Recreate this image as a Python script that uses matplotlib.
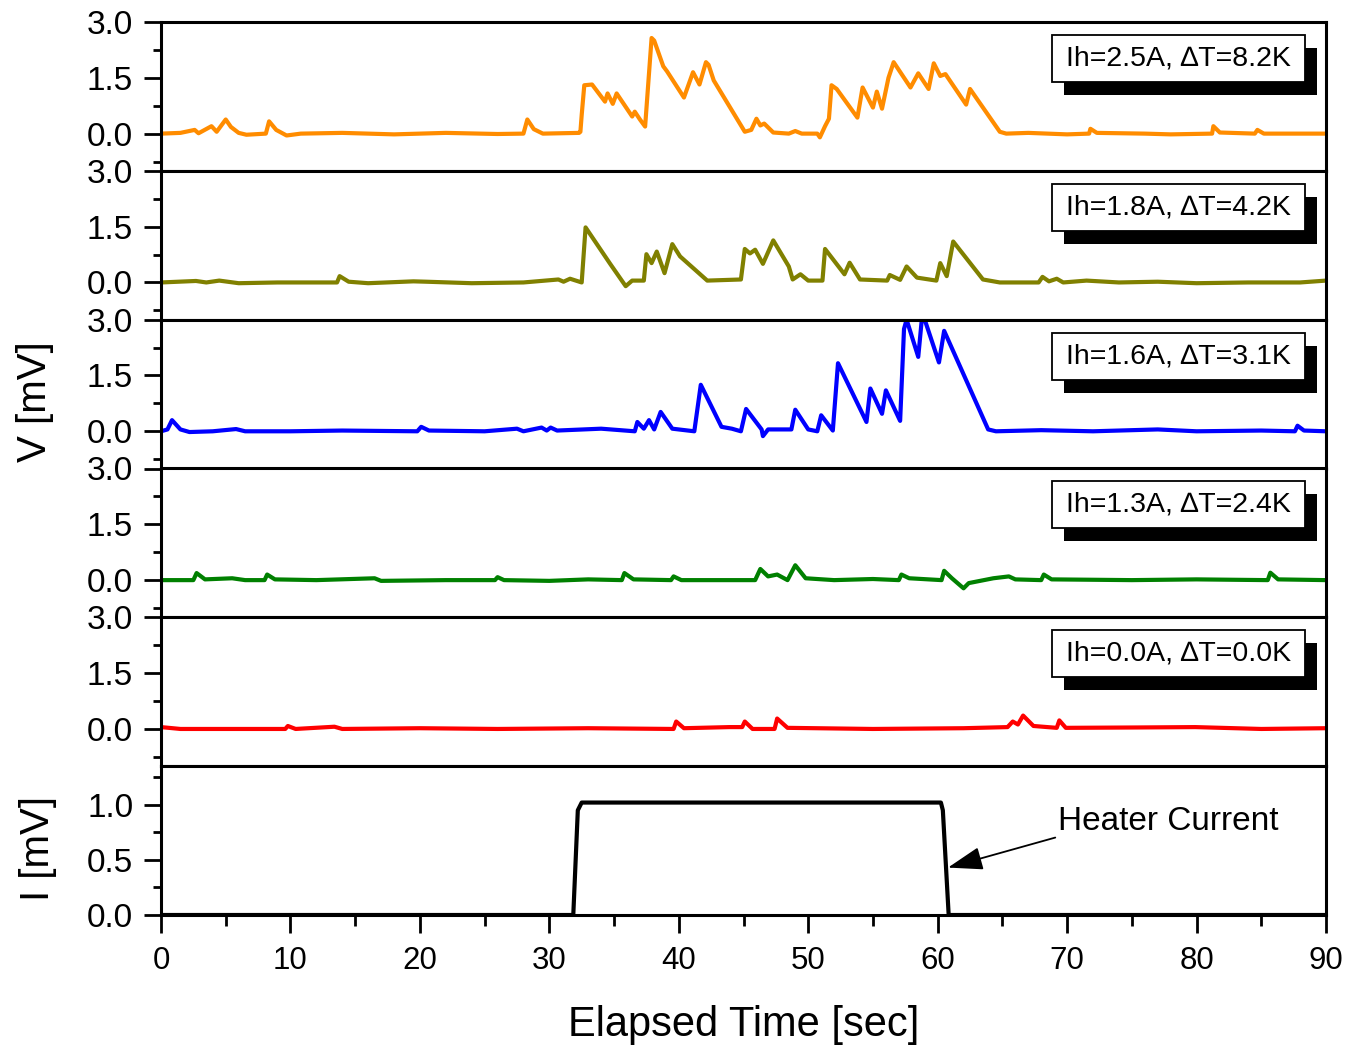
import matplotlib
matplotlib.use("Agg")
import matplotlib.pyplot as plt
from matplotlib.patches import Rectangle
from matplotlib.ticker import MultipleLocator, FixedLocator

plt.rcParams['font.family'] = ['Liberation Sans', 'DejaVu Sans']

# ---- voltage traces (time [s], V [mV]) ----
t_25 = [0, 1.5, 2.6, 2.9, 3.9, 4.3, 5.0, 5.4, 6.0, 6.6, 8.1, 8.35, 8.9, 9.7, 10.8, 14, 18, 22, 26,
        28.0, 28.3, 28.8, 29.5, 32.3, 32.4, 32.5, 32.7, 33.3, 34.3, 34.5, 34.9, 35.2, 36.4, 36.6,
        37.0, 37.4, 37.9, 38.1, 38.8, 39.1, 40.4, 41.1, 41.6, 42.1, 42.3, 42.7, 45.1, 45.6, 46.0,
        46.3, 46.6, 47.3, 48.5, 49.0, 49.5, 50.7, 50.9, 51.3, 51.6, 51.8, 52.2, 53.8, 54.2, 55.0,
        55.3, 55.7, 56.2, 56.6, 57.9, 58.5, 59.3, 59.7, 60.2, 60.6, 62.2, 62.5, 64.8, 65.3, 67, 70,
        71.7, 71.8, 72.3, 76, 78, 81.2, 81.3, 81.8, 84.5, 84.7, 85.2, 90]
v_25 = [0, 0.02, 0.1, 0.01, 0.2, 0.05, 0.38, 0.18, 0.02, -0.03, 0, 0.33, 0.1, -0.05, 0, 0.02, -0.02,
        0.02, -0.01, 0, 0.38, 0.12, 0.0, 0.02, 0.05, 0.5, 1.3, 1.32, 0.86, 1.08, 0.8, 1.08, 0.46, 0.59,
        0.38, 0.19, 2.57, 2.5, 1.81, 1.67, 0.97, 1.65, 1.32, 1.92, 1.85, 1.43, 0.05, 0.1, 0.4,
        0.22, 0.27, 0.03, 0.0, 0.07, 0.0, 0.0, -0.1, 0.2, 0.4, 1.3, 1.2, 0.43, 1.24, 0.7,
        1.13, 0.67, 1.5, 1.92, 1.24, 1.62, 1.2, 1.89, 1.55, 1.6, 0.78, 1.2, 0.05, 0.0, 0.02, -0.02,
        0.0, 0.13, 0.02, 0.0, -0.02, 0.0, 0.2, 0.03, 0.0, 0.1, 0.0, 0]

t_18 = [0, 2.7, 3.5, 4.5, 6, 9, 13.6, 13.8, 14.5, 16, 19.5, 20.5, 24, 28, 30.7, 31.1, 31.6, 32.5,
        32.8, 34.7, 35.9, 36.4, 37.3, 37.5, 37.9, 38.3, 38.9, 39.5, 40.1, 42.2, 44.8, 45.1, 45.5,
        45.9, 46.5, 47.3, 48.5, 48.8, 49.4, 50.0, 51.1, 51.3, 52.8, 53.2, 54.0, 56.1, 56.3, 57.1,
        57.6, 58.4, 59.9, 60.2, 60.7, 61.2, 63.5, 64.8, 67.8, 68.1, 68.6, 69.2, 69.7, 71.5, 74, 77,
        80, 84, 88, 90]
v_18 = [0, 0.04, 0.0, 0.05, -0.02, 0.0, 0.0, 0.17, 0.02, -0.02, 0.03, 0.02, -0.02, 0.0, 0.08, 0.02,
        0.1, 0.0, 1.48, 0.5, -0.1, 0.05, 0.05, 0.76, 0.52, 0.83, 0.25, 1.03, 0.7, 0.05, 0.08, 0.9,
        0.78, 0.88, 0.5, 1.13, 0.43, 0.08, 0.22, 0.05, 0.05, 0.9, 0.22, 0.53, 0.08, 0.05, 0.2, 0.07,
        0.43, 0.13, 0.05, 0.52, 0.17, 1.1, 0.08, 0.0, 0.0, 0.15, 0.03, 0.1, 0.0, 0.05, 0.0, 0.02,
        -0.02, 0.0, 0.0, 0.05]

t_16 = [0, 0.5, 0.85, 1.5, 2.2, 4, 5.8, 6.5, 10, 14, 19.8, 20.1, 20.7, 25, 27.5, 28, 29.4, 29.8,
        30.1, 30.6, 34.0, 36.6, 36.8, 37.3, 37.7, 38.1, 38.6, 39.5, 41.2, 41.7, 43.3, 44.1, 44.8,
        45.2, 46.4, 46.5, 46.9, 48.7, 49.0, 50.0, 50.7, 51.0, 51.9, 52.3, 54.5, 54.8, 55.7, 56.0,
        57.1, 57.4, 57.6, 58.5, 58.8, 59.0, 60.1, 60.5, 63.9, 64.5, 68, 72, 77, 80, 85, 87.6, 87.8,
        88.3, 90]
v_16 = [0, 0.05, 0.3, 0.05, -0.02, 0.0, 0.06, 0.0, 0.0, 0.02, 0.0, 0.12, 0.02, 0.0, 0.07, 0.0, 0.1,
        0.02, 0.1, 0.02, 0.07, 0.0, 0.25, 0.07, 0.3, 0.05, 0.52, 0.07, 0.0, 1.25, 0.12, 0.07, 0.0,
        0.6, 0.05, -0.13, 0.05, 0.05, 0.58, 0.05, 0.0, 0.43, 0.02, 1.83, 0.25, 1.15, 0.47, 1.1,
        0.28, 2.75, 3.0, 2.0, 3.1, 3.0, 1.85, 2.7, 0.05, 0.0, 0.03, 0.0, 0.05, 0.0, 0.02, 0.0, 0.15,
        0.02, 0]

t_13 = [0, 2.5, 2.75, 3.4, 5.5, 6.5, 8.0, 8.2, 8.8, 12, 16.5, 17, 22, 25.8, 26, 26.5, 30, 33, 35.6,
        35.8, 36.5, 39.4, 39.6, 40.2, 45.9, 46.3, 46.9, 47.6, 48.4, 49.0, 49.8, 52, 55, 57.0, 57.2,
        57.8, 60.3, 60.5, 61.1, 62.0, 62.4, 64.3, 65.5, 66, 68.0, 68.2, 68.8, 75, 80, 85.5, 85.7,
        86.3, 90]
v_13 = [0, 0.0, 0.19, 0.02, 0.05, 0.0, 0.0, 0.15, 0.02, 0.0, 0.05, -0.02, 0.0, 0.0, 0.08, 0.0, -0.02,
        0.02, 0.0, 0.19, 0.02, 0.0, 0.1, 0.0, 0.0, 0.3, 0.1, 0.15, 0.0, 0.4, 0.05, 0.0, 0.03, 0.0,
        0.15, 0.05, 0.0, 0.25, 0.05, -0.22, -0.08, 0.05, 0.1, 0.02, 0.0, 0.15, 0.02, 0.0, 0.02, 0.0,
        0.2, 0.02, 0]

t_00 = [0, 1.5, 5, 9.6, 9.8, 10.4, 13.4, 14, 20, 26, 33, 39.6, 39.8, 40.4, 43.9, 44.9, 45.1, 45.7,
        47.4, 47.6, 48.4, 55, 62, 65.4, 65.8, 66.2, 66.6, 67.4, 69.2, 69.4, 69.9, 75.4, 79.9, 85, 90]
v_00 = [0.05, 0.0, 0.0, 0.0, 0.08, 0.0, 0.06, 0.0, 0.02, 0.0, 0.02, 0.0, 0.2, 0.02, 0.05, 0.05, 0.2,
        0.0, 0.0, 0.28, 0.03, 0.0, 0.02, 0.05, 0.2, 0.12, 0.36, 0.08, 0.03, 0.23, 0.03, 0.04, 0.05,
        0.0, 0.02]

# ---- heater current ----
t_heat = [0, 31.85, 32.2, 32.5, 60.25, 60.4, 60.85, 90]
i_heat = [0, 0, 0.95, 1.02, 1.02, 0.95, 0, 0]

labels = ["Ih=2.5A, \u2206T=8.2K", "Ih=1.8A, \u2206T=4.2K", "Ih=1.6A, \u2206T=3.1K",
          "Ih=1.3A, \u2206T=2.4K", "Ih=0.0A, \u2206T=0.0K"]
colors = ["#FF8C00", "#808000", "#0000FF", "#008000", "#FF0000"]
traces = [(t_25, v_25), (t_18, v_18), (t_16, v_16), (t_13, v_13), (t_00, v_00)]

fig = plt.figure(figsize=(13.5, 10.48), dpi=100)
left, right = 161 / 1350, 1326 / 1350
top, bottom = 1 - 22 / 1048, 1 - 915 / 1048
h = (top - bottom) / 6

axes = []
for k in range(6):
    ax = fig.add_axes([left, top - (k + 1) * h, right - left, h])
    axes.append(ax)
    for s in ax.spines.values():
        s.set_linewidth(2.2)
    ax.set_xlim(0, 90)
    ax.tick_params(axis='y', which='major', direction='out', length=12, width=2.0,
                   labelsize=24, pad=8)
    ax.tick_params(axis='y', which='minor', direction='out', length=6, width=2.0)
    if k < 5:
        ax.tick_params(axis='x', which='both', bottom=False, labelbottom=False)

for ax, (t, v), c, lab in zip(axes[:5], traces, colors, labels):
    ax.plot(t, v, color=c, lw=3.0, solid_joinstyle='round')
    ax.set_ylim(-1.0, 3.0)
    ax.yaxis.set_major_locator(FixedLocator([0.0, 1.5, 3.0]))
    ax.yaxis.set_minor_locator(FixedLocator([-0.75, 0.75, 2.25]))
    ax.set_yticklabels(["0.0", "1.5", "3.0"])
    # label box with a drop shadow
    ax.add_patch(Rectangle((0.775, 0.51), 0.217, 0.316, transform=ax.transAxes,
                           facecolor='black', edgecolor='none', zorder=5))
    ax.add_patch(Rectangle((0.765, 0.597), 0.217, 0.316, transform=ax.transAxes,
                           facecolor='white', edgecolor='black', lw=1.3, zorder=6))
    ax.text(0.8735, 0.755, lab, transform=ax.transAxes, ha='center', va='center',
            fontsize=20.5, zorder=7)

axh = axes[5]
axh.plot(t_heat, i_heat, color='black', lw=3.0, solid_joinstyle='round')
axh.set_ylim(0, 1.35)
axh.yaxis.set_major_locator(FixedLocator([0.0, 0.5, 1.0]))
axh.yaxis.set_minor_locator(FixedLocator([0.25, 0.75, 1.25]))
axh.set_yticklabels(["0.0", "0.5", "1.0"])
axh.xaxis.set_major_locator(MultipleLocator(10))
axh.xaxis.set_minor_locator(MultipleLocator(5))
axh.tick_params(axis='x', which='major', direction='out', length=13, width=2.0,
                labelsize=22.5, pad=9)
axh.tick_params(axis='x', which='minor', direction='out', length=8, width=2.0)
axh.annotate("Heater Current", xy=(60.8, 0.43), xytext=(69.3, 0.85),
             fontsize=24, va='center', ha='left',
             arrowprops=dict(arrowstyle='-|>,head_length=0.9,head_width=0.3',
                             color='black', lw=1.3, shrinkA=0, shrinkB=0,
                             relpos=(0.0, 0.0)))

fig.text(0.5 * (left + right), 0.022, "Elapsed Time [sec]", ha='center', va='center',
         fontsize=30)
fig.text(0.026, 0.617, "V [mV]", rotation=90, ha='center', va='center', fontsize=29)
fig.text(0.028, 0.19, "I [mV]", rotation=90, ha='center', va='center', fontsize=29)

fig.savefig("out.png", dpi=100, facecolor='white')
